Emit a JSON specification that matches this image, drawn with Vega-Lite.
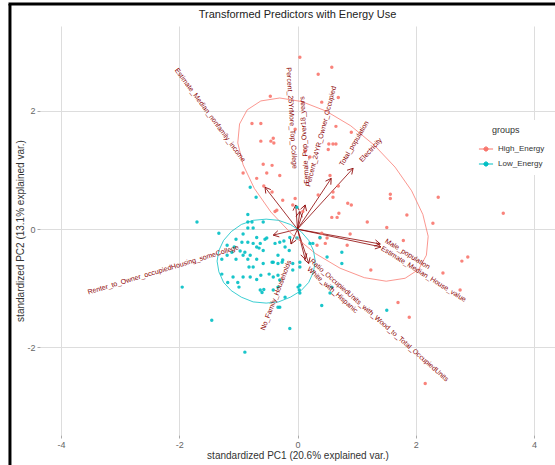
{
  "$schema": "https://vega.github.io/schema/vega-lite/v6.json",
  "width": 515,
  "height": 409,
  "autosize": {"type": "none"},
  "padding": {"left": 40, "top": 26, "right": 0, "bottom": 30},
  "background": "white",
  "title": {
    "text": "Transformed Predictors with Energy Use",
    "font": "Liberation Sans",
    "fontSize": 11,
    "fontWeight": "normal",
    "color": "#222222",
    "anchor": "middle",
    "baseline": "bottom",
    "offset": -28
  },
  "config": {
    "view": {"stroke": null},
    "axis": {
      "grid": true,
      "gridColor": "#dddddd",
      "gridWidth": 1,
      "domain": false,
      "tickColor": "#aaaaaa",
      "tickSize": 3,
      "labelFont": "Liberation Sans",
      "labelFontSize": 9,
      "labelColor": "#666666",
      "labelExpr": "'' + datum.value",
      "titleFont": "Liberation Sans",
      "titleFontSize": 10,
      "titleFontWeight": "normal",
      "titleColor": "#333333"
    }
  },
  "datasets": {
    "scores": [
      {"PC1": 0.04, "PC2": 2.91, "group": "High_Energy"},
      {"PC1": 0.58, "PC2": 2.74, "group": "High_Energy"},
      {"PC1": 0.35, "PC2": 2.62, "group": "High_Energy"},
      {"PC1": -0.46, "PC2": 2.25, "group": "High_Energy"},
      {"PC1": 0.41, "PC2": 2.15, "group": "High_Energy"},
      {"PC1": 0.69, "PC2": 2.23, "group": "High_Energy"},
      {"PC1": -0.77, "PC2": 1.79, "group": "High_Energy"},
      {"PC1": -0.62, "PC2": 1.79, "group": "High_Energy"},
      {"PC1": -0.04, "PC2": 1.69, "group": "High_Energy"},
      {"PC1": 0.65, "PC2": 1.74, "group": "High_Energy"},
      {"PC1": 0.91, "PC2": 1.64, "group": "High_Energy"},
      {"PC1": -0.41, "PC2": 1.54, "group": "High_Energy"},
      {"PC1": -0.62, "PC2": 1.49, "group": "High_Energy"},
      {"PC1": -0.45, "PC2": 1.49, "group": "High_Energy"},
      {"PC1": -0.40, "PC2": 1.46, "group": "High_Energy"},
      {"PC1": 0.53, "PC2": 1.44, "group": "High_Energy"},
      {"PC1": 0.60, "PC2": 1.44, "group": "High_Energy"},
      {"PC1": 0.65, "PC2": 1.44, "group": "High_Energy"},
      {"PC1": 0.13, "PC2": 1.32, "group": "High_Energy"},
      {"PC1": 0.52, "PC2": 1.35, "group": "High_Energy"},
      {"PC1": 0.21, "PC2": 1.22, "group": "High_Energy"},
      {"PC1": -0.58, "PC2": 1.10, "group": "High_Energy"},
      {"PC1": -0.43, "PC2": 1.08, "group": "High_Energy"},
      {"PC1": -0.52, "PC2": 0.95, "group": "High_Energy"},
      {"PC1": -0.30, "PC2": 0.91, "group": "High_Energy"},
      {"PC1": -0.92, "PC2": 0.95, "group": "High_Energy"},
      {"PC1": -0.69, "PC2": 0.86, "group": "High_Energy"},
      {"PC1": 0.55, "PC2": 0.91, "group": "High_Energy"},
      {"PC1": 0.69, "PC2": 0.73, "group": "High_Energy"},
      {"PC1": 1.57, "PC2": 0.59, "group": "High_Energy"},
      {"PC1": 1.57, "PC2": 0.52, "group": "High_Energy"},
      {"PC1": 0.60, "PC2": 0.54, "group": "High_Energy"},
      {"PC1": -0.04, "PC2": 0.52, "group": "High_Energy"},
      {"PC1": -0.25, "PC2": 0.49, "group": "High_Energy"},
      {"PC1": -0.57, "PC2": 0.73, "group": "High_Energy"},
      {"PC1": -0.38, "PC2": 0.30, "group": "High_Energy"},
      {"PC1": -0.43, "PC2": 0.63, "group": "High_Energy"},
      {"PC1": -0.08, "PC2": 0.41, "group": "High_Energy"},
      {"PC1": 0.09, "PC2": 0.30, "group": "High_Energy"},
      {"PC1": 0.35, "PC2": 0.58, "group": "High_Energy"},
      {"PC1": 0.60, "PC2": 0.63, "group": "High_Energy"},
      {"PC1": 2.38, "PC2": 0.54, "group": "High_Energy"},
      {"PC1": 0.85, "PC2": 0.44, "group": "High_Energy"},
      {"PC1": 0.91, "PC2": 0.41, "group": "High_Energy"},
      {"PC1": 1.85, "PC2": 0.24, "group": "High_Energy"},
      {"PC1": 0.70, "PC2": 0.27, "group": "High_Energy"},
      {"PC1": 0.67, "PC2": 0.20, "group": "High_Energy"},
      {"PC1": 0.58, "PC2": 0.20, "group": "High_Energy"},
      {"PC1": 1.18, "PC2": 0.12, "group": "High_Energy"},
      {"PC1": 2.29, "PC2": 0.10, "group": "High_Energy"},
      {"PC1": 1.51, "PC2": 0.03, "group": "High_Energy"},
      {"PC1": 0.89, "PC2": -0.08, "group": "High_Energy"},
      {"PC1": 0.50, "PC2": -0.15, "group": "High_Energy"},
      {"PC1": 0.41, "PC2": -0.07, "group": "High_Energy"},
      {"PC1": 0.47, "PC2": -0.24, "group": "High_Energy"},
      {"PC1": 0.84, "PC2": -0.27, "group": "High_Energy"},
      {"PC1": 1.79, "PC2": -0.19, "group": "High_Energy"},
      {"PC1": 2.88, "PC2": -0.47, "group": "High_Energy"},
      {"PC1": 2.78, "PC2": -0.54, "group": "High_Energy"},
      {"PC1": 2.46, "PC2": -0.74, "group": "High_Energy"},
      {"PC1": 1.24, "PC2": -0.69, "group": "High_Energy"},
      {"PC1": 2.75, "PC2": -1.03, "group": "High_Energy"},
      {"PC1": 1.70, "PC2": -1.24, "group": "High_Energy"},
      {"PC1": 1.89, "PC2": -1.49, "group": "High_Energy"},
      {"PC1": 0.33, "PC2": -0.27, "group": "High_Energy"},
      {"PC1": 0.38, "PC2": -0.15, "group": "High_Energy"},
      {"PC1": -0.35, "PC2": 0.32, "group": "High_Energy"},
      {"PC1": 3.48, "PC2": 0.27, "group": "High_Energy"},
      {"PC1": 2.16, "PC2": -2.61, "group": "High_Energy"},
      {"PC1": -0.80, "PC2": 0.71, "group": "Low_Energy"},
      {"PC1": -0.70, "PC2": 0.54, "group": "Low_Energy"},
      {"PC1": -0.01, "PC2": 0.37, "group": "Low_Energy"},
      {"PC1": -0.77, "PC2": 0.12, "group": "Low_Energy"},
      {"PC1": -0.58, "PC2": 0.12, "group": "Low_Energy"},
      {"PC1": 0.38, "PC2": -0.14, "group": "Low_Energy"},
      {"PC1": 0.75, "PC2": -0.39, "group": "Low_Energy"},
      {"PC1": 0.75, "PC2": -0.58, "group": "Low_Energy"},
      {"PC1": 0.50, "PC2": -0.47, "group": "Low_Energy"},
      {"PC1": 0.26, "PC2": -0.24, "group": "Low_Energy"},
      {"PC1": 0.21, "PC2": -0.24, "group": "Low_Energy"},
      {"PC1": 0.04, "PC2": -0.64, "group": "Low_Energy"},
      {"PC1": -0.08, "PC2": -0.58, "group": "Low_Energy"},
      {"PC1": -0.25, "PC2": -0.52, "group": "Low_Energy"},
      {"PC1": 0.01, "PC2": -0.98, "group": "Low_Energy"},
      {"PC1": 0.04, "PC2": -1.08, "group": "Low_Energy"},
      {"PC1": -0.21, "PC2": -1.15, "group": "Low_Energy"},
      {"PC1": 0.41, "PC2": -1.29, "group": "Low_Energy"},
      {"PC1": 0.55, "PC2": -1.08, "group": "Low_Energy"},
      {"PC1": 0.58, "PC2": -0.98, "group": "Low_Energy"},
      {"PC1": 1.51, "PC2": -1.37, "group": "Low_Energy"},
      {"PC1": -0.13, "PC2": -1.68, "group": "Low_Energy"},
      {"PC1": -0.30, "PC2": -1.32, "group": "Low_Energy"},
      {"PC1": -0.43, "PC2": -0.56, "group": "Low_Energy"},
      {"PC1": -0.84, "PC2": 0.25, "group": "Low_Energy"},
      {"PC1": -0.84, "PC2": 0.12, "group": "Low_Energy"},
      {"PC1": -1.70, "PC2": 0.12, "group": "Low_Energy"},
      {"PC1": -0.84, "PC2": 0.02, "group": "Low_Energy"},
      {"PC1": -0.75, "PC2": 0.02, "group": "Low_Energy"},
      {"PC1": -1.33, "PC2": -0.07, "group": "Low_Energy"},
      {"PC1": -0.92, "PC2": -0.08, "group": "Low_Energy"},
      {"PC1": -0.69, "PC2": -0.14, "group": "Low_Energy"},
      {"PC1": -0.52, "PC2": -0.15, "group": "Low_Energy"},
      {"PC1": -1.04, "PC2": -0.17, "group": "Low_Energy"},
      {"PC1": -0.94, "PC2": -0.22, "group": "Low_Energy"},
      {"PC1": -0.84, "PC2": -0.22, "group": "Low_Energy"},
      {"PC1": -0.75, "PC2": -0.24, "group": "Low_Energy"},
      {"PC1": -0.63, "PC2": -0.24, "group": "Low_Energy"},
      {"PC1": -0.55, "PC2": -0.17, "group": "Low_Energy"},
      {"PC1": -0.30, "PC2": -0.22, "group": "Low_Energy"},
      {"PC1": -0.23, "PC2": -0.20, "group": "Low_Energy"},
      {"PC1": -0.13, "PC2": -0.14, "group": "Low_Energy"},
      {"PC1": -0.38, "PC2": -0.24, "group": "Low_Energy"},
      {"PC1": -0.01, "PC2": -0.15, "group": "Low_Energy"},
      {"PC1": -1.19, "PC2": -0.27, "group": "Low_Energy"},
      {"PC1": -1.07, "PC2": -0.30, "group": "Low_Energy"},
      {"PC1": -0.69, "PC2": -0.30, "group": "Low_Energy"},
      {"PC1": -0.65, "PC2": -0.32, "group": "Low_Energy"},
      {"PC1": -0.58, "PC2": -0.36, "group": "Low_Energy"},
      {"PC1": -0.21, "PC2": -0.30, "group": "Low_Energy"},
      {"PC1": -0.14, "PC2": -0.36, "group": "Low_Energy"},
      {"PC1": -0.97, "PC2": -0.37, "group": "Low_Energy"},
      {"PC1": -0.89, "PC2": -0.39, "group": "Low_Energy"},
      {"PC1": -1.11, "PC2": -0.39, "group": "Low_Energy"},
      {"PC1": -0.80, "PC2": -0.44, "group": "Low_Energy"},
      {"PC1": -0.92, "PC2": -0.44, "group": "Low_Energy"},
      {"PC1": -1.19, "PC2": -0.44, "group": "Low_Energy"},
      {"PC1": -1.28, "PC2": -0.51, "group": "Low_Energy"},
      {"PC1": -1.04, "PC2": -0.51, "group": "Low_Energy"},
      {"PC1": -0.84, "PC2": -0.51, "group": "Low_Energy"},
      {"PC1": -0.69, "PC2": -0.51, "group": "Low_Energy"},
      {"PC1": -0.33, "PC2": -0.44, "group": "Low_Energy"},
      {"PC1": -0.41, "PC2": -0.56, "group": "Low_Energy"},
      {"PC1": -0.33, "PC2": -0.58, "group": "Low_Energy"},
      {"PC1": -0.26, "PC2": -0.56, "group": "Low_Energy"},
      {"PC1": -0.58, "PC2": -0.58, "group": "Low_Energy"},
      {"PC1": -0.75, "PC2": -0.64, "group": "Low_Energy"},
      {"PC1": -0.82, "PC2": -0.64, "group": "Low_Energy"},
      {"PC1": 0.04, "PC2": -0.56, "group": "Low_Energy"},
      {"PC1": -0.08, "PC2": -0.69, "group": "Low_Energy"},
      {"PC1": -1.28, "PC2": -0.76, "group": "Low_Energy"},
      {"PC1": -1.09, "PC2": -0.81, "group": "Low_Energy"},
      {"PC1": -0.92, "PC2": -0.81, "group": "Low_Energy"},
      {"PC1": -0.80, "PC2": -0.81, "group": "Low_Energy"},
      {"PC1": -0.62, "PC2": -0.78, "group": "Low_Energy"},
      {"PC1": -0.48, "PC2": -0.76, "group": "Low_Energy"},
      {"PC1": -0.41, "PC2": -0.81, "group": "Low_Energy"},
      {"PC1": -0.33, "PC2": -0.78, "group": "Low_Energy"},
      {"PC1": -0.69, "PC2": -0.85, "group": "Low_Energy"},
      {"PC1": -0.30, "PC2": -0.86, "group": "Low_Energy"},
      {"PC1": -1.18, "PC2": -0.90, "group": "Low_Energy"},
      {"PC1": -1.01, "PC2": -0.90, "group": "Low_Energy"},
      {"PC1": -0.99, "PC2": -0.98, "group": "Low_Energy"},
      {"PC1": -0.63, "PC2": -1.03, "group": "Low_Energy"},
      {"PC1": -0.60, "PC2": -1.07, "group": "Low_Energy"},
      {"PC1": -0.57, "PC2": -1.02, "group": "Low_Energy"},
      {"PC1": -0.41, "PC2": -1.03, "group": "Low_Energy"},
      {"PC1": -0.33, "PC2": -0.98, "group": "Low_Energy"},
      {"PC1": 0.04, "PC2": -0.95, "group": "Low_Energy"},
      {"PC1": 0.03, "PC2": -1.03, "group": "Low_Energy"},
      {"PC1": -1.95, "PC2": -0.98, "group": "Low_Energy"},
      {"PC1": -1.45, "PC2": -1.54, "group": "Low_Energy"},
      {"PC1": -0.33, "PC2": -1.32, "group": "Low_Energy"},
      {"PC1": -0.89, "PC2": -2.08, "group": "Low_Energy"}
    ],
    "ellipses": [
      {"group": "High_Energy", "step": 0, "PC1": 2.05, "PC2": -0.68},
      {"group": "High_Energy", "step": 1, "PC1": 2.18, "PC2": -0.44},
      {"group": "High_Energy", "step": 2, "PC1": 2.21, "PC2": -0.12},
      {"group": "High_Energy", "step": 3, "PC1": 2.12, "PC2": 0.25},
      {"group": "High_Energy", "step": 4, "PC1": 1.93, "PC2": 0.65},
      {"group": "High_Energy", "step": 5, "PC1": 1.65, "PC2": 1.05},
      {"group": "High_Energy", "step": 6, "PC1": 1.30, "PC2": 1.42},
      {"group": "High_Energy", "step": 7, "PC1": 0.90, "PC2": 1.75},
      {"group": "High_Energy", "step": 8, "PC1": 0.48, "PC2": 2.00},
      {"group": "High_Energy", "step": 9, "PC1": 0.07, "PC2": 2.16},
      {"group": "High_Energy", "step": 10, "PC1": -0.30, "PC2": 2.22},
      {"group": "High_Energy", "step": 11, "PC1": -0.62, "PC2": 2.17},
      {"group": "High_Energy", "step": 12, "PC1": -0.85, "PC2": 2.02},
      {"group": "High_Energy", "step": 13, "PC1": -0.98, "PC2": 1.78},
      {"group": "High_Energy", "step": 14, "PC1": -1.01, "PC2": 1.46},
      {"group": "High_Energy", "step": 15, "PC1": -0.92, "PC2": 1.09},
      {"group": "High_Energy", "step": 16, "PC1": -0.73, "PC2": 0.69},
      {"group": "High_Energy", "step": 17, "PC1": -0.45, "PC2": 0.29},
      {"group": "High_Energy", "step": 18, "PC1": -0.10, "PC2": -0.08},
      {"group": "High_Energy", "step": 19, "PC1": 0.30, "PC2": -0.41},
      {"group": "High_Energy", "step": 20, "PC1": 0.72, "PC2": -0.66},
      {"group": "High_Energy", "step": 21, "PC1": 1.13, "PC2": -0.82},
      {"group": "High_Energy", "step": 22, "PC1": 1.50, "PC2": -0.88},
      {"group": "High_Energy", "step": 23, "PC1": 1.82, "PC2": -0.83},
      {"group": "High_Energy", "step": 24, "PC1": 2.05, "PC2": -0.68},
      {"group": "Low_Energy", "step": 0, "PC1": 0.30, "PC2": -0.54},
      {"group": "Low_Energy", "step": 1, "PC1": 0.27, "PC2": -0.36},
      {"group": "Low_Energy", "step": 2, "PC1": 0.19, "PC2": -0.19},
      {"group": "Low_Energy", "step": 3, "PC1": 0.06, "PC2": -0.04},
      {"group": "Low_Energy", "step": 4, "PC1": -0.12, "PC2": 0.08},
      {"group": "Low_Energy", "step": 5, "PC1": -0.32, "PC2": 0.15},
      {"group": "Low_Energy", "step": 6, "PC1": -0.53, "PC2": 0.17},
      {"group": "Low_Energy", "step": 7, "PC1": -0.75, "PC2": 0.15},
      {"group": "Low_Energy", "step": 8, "PC1": -0.95, "PC2": 0.08},
      {"group": "Low_Energy", "step": 9, "PC1": -1.12, "PC2": -0.04},
      {"group": "Low_Energy", "step": 10, "PC1": -1.25, "PC2": -0.19},
      {"group": "Low_Energy", "step": 11, "PC1": -1.33, "PC2": -0.36},
      {"group": "Low_Energy", "step": 12, "PC1": -1.36, "PC2": -0.54},
      {"group": "Low_Energy", "step": 13, "PC1": -1.33, "PC2": -0.72},
      {"group": "Low_Energy", "step": 14, "PC1": -1.25, "PC2": -0.90},
      {"group": "Low_Energy", "step": 15, "PC1": -1.12, "PC2": -1.04},
      {"group": "Low_Energy", "step": 16, "PC1": -0.95, "PC2": -1.15},
      {"group": "Low_Energy", "step": 17, "PC1": -0.75, "PC2": -1.23},
      {"group": "Low_Energy", "step": 18, "PC1": -0.53, "PC2": -1.25},
      {"group": "Low_Energy", "step": 19, "PC1": -0.32, "PC2": -1.23},
      {"group": "Low_Energy", "step": 20, "PC1": -0.12, "PC2": -1.15},
      {"group": "Low_Energy", "step": 21, "PC1": 0.06, "PC2": -1.04},
      {"group": "Low_Energy", "step": 22, "PC1": 0.19, "PC2": -0.90},
      {"group": "Low_Energy", "step": 23, "PC1": 0.27, "PC2": -0.72},
      {"group": "Low_Energy", "step": 24, "PC1": 0.30, "PC2": -0.54}
    ],
    "loadings": [
      {"name": "Estimate_Median_nonfamily_income", "PC1": -0.55, "PC2": 0.71, "labelPC1": -1.48, "labelPC2": 1.93, "tilt": 53.6},
      {"name": "Percent_25YrMore_Top_College", "PC1": -0.03, "PC2": 0.41, "labelPC1": -0.10, "labelPC2": 1.88, "tilt": 86.4},
      {"name": "Female_Pop_Over18_years", "PC1": 0.04, "PC2": 0.30, "labelPC1": 0.12, "labelPC2": 1.51, "tilt": -93},
      {"name": "Percent_24YR_Owner_Occupied", "PC1": 0.13, "PC2": 0.41, "labelPC1": 0.40, "labelPC2": 1.57, "tilt": -75.3},
      {"name": "Total_population", "PC1": 0.57, "PC2": 0.86, "labelPC1": 0.96, "labelPC2": 1.45, "tilt": -59.2},
      {"name": "Electricity", "PC1": 0.94, "PC2": 1.03, "labelPC1": 1.24, "labelPC2": 1.34, "tilt": -47.5},
      {"name": "Male_population", "PC1": 1.40, "PC2": -0.25, "labelPC1": 1.86, "labelPC2": -0.42, "tilt": 31.9},
      {"name": "Estimate_Median_House_value", "PC1": 1.41, "PC2": -0.30, "labelPC1": 2.13, "labelPC2": -0.76, "tilt": 32},
      {"name": "Renter_to_Owner_occupiedHousing_someCollege", "PC1": -0.41, "PC2": -0.10, "labelPC1": -2.27, "labelPC2": -0.69, "tilt": -16.7},
      {"name": "No_Family_Households", "PC1": -0.11, "PC2": -0.25, "labelPC1": -0.36, "labelPC2": -1.12, "tilt": -68.9},
      {"name": "White_with_Hispanic", "PC1": 0.13, "PC2": -0.51, "labelPC1": 0.59, "labelPC2": -1.03, "tilt": 41.9},
      {"name": "Ratio_OccupiedUnits_with_Wood_to_Total_OccupiedUnits", "PC1": 0.19, "PC2": -0.58, "labelPC1": 1.38, "labelPC2": -1.54, "tilt": 41.3}
    ]
  },
  "layer": [
    {
      "data": {"values": [{}]},
      "mark": {"type": "rule", "clip": false, "color": "#000000", "strokeWidth": 3},
      "encoding": {
        "x": {"datum": -4.863, "type": "quantitative"},
        "y": {"datum": 3.81, "type": "quantitative"},
        "y2": {"datum": -4.2}
      }
    },
    {
      "data": {"values": [{}]},
      "mark": {"type": "rule", "clip": false, "color": "#000000", "strokeWidth": 3},
      "encoding": {
        "y": {"datum": 3.81, "type": "quantitative"},
        "x": {"datum": -4.888, "type": "quantitative"},
        "x2": {"datum": 4.5}
      }
    },
    {
      "data": {"name": "loadings"},
      "mark": {"type": "rule", "color": "#8B0000", "strokeWidth": 0.8},
      "encoding": {
        "x": {"field": "PC1", "type": "quantitative"},
        "y": {"field": "PC2", "type": "quantitative"},
        "x2": {"datum": 0},
        "y2": {"datum": 0}
      }
    },
    {
      "data": {"name": "loadings"},
      "transform": [
        {"calculate": "atan2(-datum.PC2, datum.PC1) * 180 / PI", "as": "heading"}
      ],
      "mark": {
        "type": "point",
        "shape": "M-1,-0.58L0,0L-1,0.58",
        "filled": false,
        "size": 120,
        "color": "#8B0000",
        "strokeWidth": 0.8,
        "opacity": 1
      },
      "encoding": {
        "x": {"field": "PC1", "type": "quantitative"},
        "y": {"field": "PC2", "type": "quantitative"},
        "angle": {"field": "heading", "type": "quantitative", "scale": null}
      }
    },
    {
      "data": {"name": "scores"},
      "mark": {"type": "circle", "size": 12, "opacity": 0.9},
      "encoding": {
        "x": {
          "field": "PC1",
          "type": "quantitative",
          "title": "standardized PC1 (20.6% explained var.)",
          "scale": {"domain": [-4.355, 4.355], "nice": false, "zero": false},
          "axis": {"values": [-4, -2, 0, 2, 4], "labelPadding": 2, "titlePadding": 1}
        },
        "y": {
          "field": "PC2",
          "type": "quantitative",
          "title": "standardized PC2 (13.1% explained var.)",
          "scale": {"domain": [-3.482, 3.438], "nice": false, "zero": false},
          "axis": {"values": [-2, 0, 2], "labelPadding": 2, "titlePadding": 1}
        },
        "color": {
          "field": "group",
          "type": "nominal",
          "scale": {"domain": ["High_Energy", "Low_Energy"], "range": ["#F8766D", "#00BFC4"]},
          "legend": {
            "title": "groups",
            "orient": "none",
            "legendX": 432,
            "legendY": 94,
            "fillColor": "white",
            "padding": 6,
            "titleFont": "Liberation Sans",
            "titleFontSize": 9,
            "titleFontWeight": "normal",
            "titleColor": "#333333",
            "titlePadding": 6,
            "labelFont": "Liberation Sans",
            "labelFontSize": 8,
            "labelColor": "#333333",
            "rowPadding": 2,
            "symbolType": "M-1,0L1,0M0.3,0A0.3,0.3,0,1,1,-0.3,0A0.3,0.3,0,1,1,0.3,0",
            "symbolSize": 200,
            "symbolStrokeWidth": 1,
            "symbolOpacity": 1,
            "encode": {
              "symbols": {"update": {"stroke": {"scale": "color", "field": "value"}}},
              "title": {"update": {"dx": {"value": 14}}}
            }
          }
        }
      }
    },
    {
      "data": {"name": "ellipses"},
      "mark": {"type": "line", "strokeWidth": 0.9, "opacity": 0.85},
      "encoding": {
        "x": {"field": "PC1", "type": "quantitative"},
        "y": {"field": "PC2", "type": "quantitative"},
        "order": {"field": "step", "type": "quantitative"},
        "color": {"field": "group", "type": "nominal", "legend": null}
      }
    },
    {
      "data": {"name": "loadings"},
      "mark": {
        "type": "text",
        "font": "Liberation Sans",
        "fontSize": 7,
        "color": "#8B0000",
        "align": "center",
        "baseline": "middle"
      },
      "encoding": {
        "x": {"field": "labelPC1", "type": "quantitative"},
        "y": {"field": "labelPC2", "type": "quantitative"},
        "text": {"field": "name"},
        "angle": {"field": "tilt", "type": "quantitative", "scale": null}
      }
    }
  ]
}
